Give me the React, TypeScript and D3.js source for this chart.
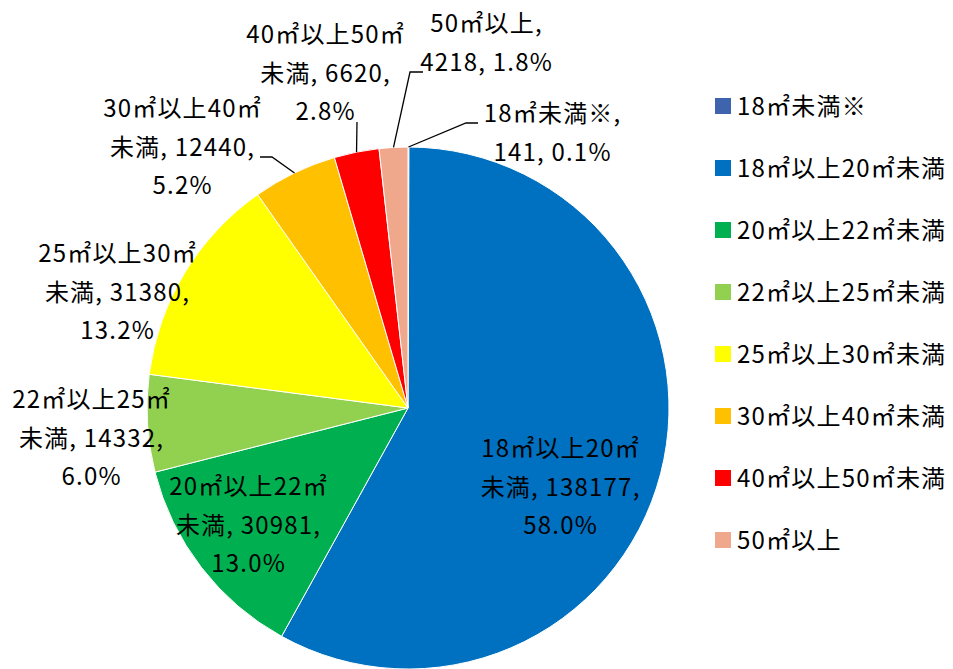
import { useMemo } from 'react';
import * as d3 from 'd3';

// 面積区分ごとの戸数
const categories = [
  '18㎡未満※',
  '18㎡以上20㎡未満',
  '20㎡以上22㎡未満',
  '22㎡以上25㎡未満',
  '25㎡以上30㎡未満',
  '30㎡以上40㎡未満',
  '40㎡以上50㎡未満',
  '50㎡以上',
];
const counts = [141, 138177, 30981, 14332, 31380, 12440, 6620, 4218];
const percents = ['0.1%', '58.0%', '13.0%', '6.0%', '13.2%', '5.2%', '2.8%', '1.8%'];

// データラベルの改行位置 (Excel の自動折り返しに合わせる)
const labelLines = [
  ['18㎡未満※,', '141, 0.1%'],
  ['18㎡以上20㎡', '未満, 138177,', '58.0%'],
  ['20㎡以上22㎡', '未満, 30981,', '13.0%'],
  ['22㎡以上25㎡', '未満, 14332,', '6.0%'],
  ['25㎡以上30㎡', '未満, 31380,', '13.2%'],
  ['30㎡以上40㎡', '未満, 12440,', '5.2%'],
  ['40㎡以上50㎡', '未満, 6620,', '2.8%'],
  ['50㎡以上,', '4218, 1.8%'],
];

const colors = ['#3d64ad', '#0070c0', '#00b050', '#92d050', '#ffff00', '#ffc000', '#ff0000', '#f0a88c'];

const W = 953;
const H = 669;
const cx = 408;
const cy = 408;
const R = 261;
const FONT = "'Noto Sans CJK JP', sans-serif";
const LINE_H = 38.5;
const LS = 1.2;

// ラベル配置 (中心 x, 1行目ベースライン y) と引き出し線の始点
const labelLayout: { x: number; y: number; leader?: [number, number][] }[] = [
  { x: 552, y: 122, leader: [[478, 123], [466, 123]] },
  { x: 560, y: 457 },
  { x: 248, y: 495 },
  { x: 91, y: 408 },
  { x: 117, y: 262 },
  { x: 182, y: 117, leader: [[260, 157], [272, 157]] },
  { x: 325, y: 43, leader: [[357, 122]] },
  { x: 486, y: 32, leader: [[423, 72], [410, 72]] },
];

export default function App() {
  const arcs = useMemo(() => d3.pie<number>().sort(null).value(d => d)(counts), []);

  const arcGen = d3.arc<d3.PieArcDatum<number>>().innerRadius(0).outerRadius(R);

  return (
    <svg
      width={W}
      height={H}
      style={{ position: 'absolute', left: 0, top: 0, background: '#fff', fontFamily: FONT }}
    >
      <g transform={`translate(${cx},${cy})`}>
        {arcs.map((a, i) => (
          <path key={i} d={arcGen(a) || ''} fill={colors[i]} stroke="#fff" strokeWidth={1} />
        ))}
      </g>

      {/* 引き出し線 */}
      {arcs.map((a, i) => {
        const lay = labelLayout[i];
        if (!lay.leader) return null;
        const mid = (a.startAngle + a.endAngle) / 2;
        const edge: [number, number] = [cx + R * Math.sin(mid), cy - R * Math.cos(mid)];
        const pts = [...lay.leader, edge];
        return (
          <path key={i} d={d3.line()(pts) || ''} fill="none" stroke="#000" strokeWidth={1.3} />
        );
      })}

      {/* データラベル */}
      {labelLines.map((lines, i) => (
        <text key={i} textAnchor="middle" fontSize={24} letterSpacing={LS} fill="#000">
          {lines.map((t, j) => (
            <tspan key={j} x={labelLayout[i].x + LS / 2} y={labelLayout[i].y + j * LINE_H}>
              {t}
            </tspan>
          ))}
        </text>
      ))}

      {/* 凡例 */}
      {categories.map((c, i) => {
        const y = 106 + i * 62;
        return (
          <g key={c}>
            <rect x={715} y={y - 8} width={16} height={16} fill={colors[i]} />
            <text x={737} y={y + 9} fontSize={24} letterSpacing={LS} fill="#000">
              {c}
            </text>
          </g>
        );
      })}
    </svg>
  );
}
